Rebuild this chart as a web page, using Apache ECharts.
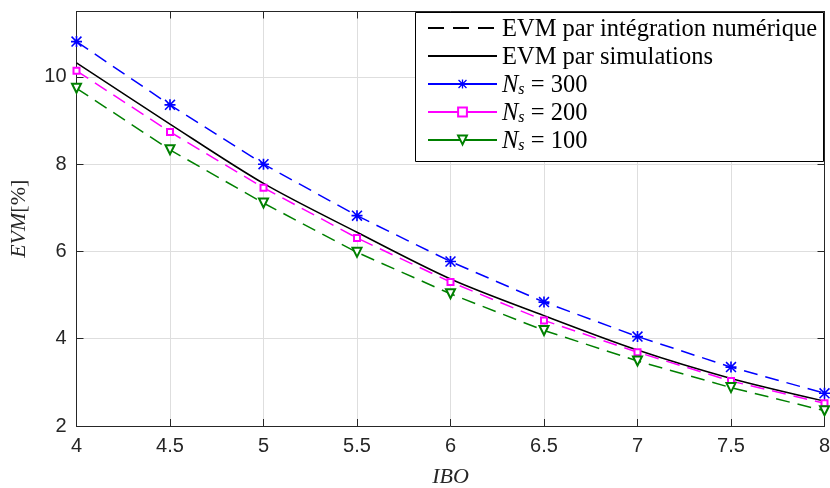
<!DOCTYPE html>
<html>
<head>
<meta charset="utf-8">
<script src="https://cdn.jsdelivr.net/npm/echarts@6/dist/echarts.min.js"></script>
<style>html,body{margin:0;padding:0;background:#fff}#c{width:830px;height:488px}</style>
</head>
<body>
<div id="c"></div>
<script>
const ibo = [4, 4.5, 5, 5.5, 6, 6.5, 7, 7.5, 8];
const evmSimulations = [10.32, 8.92, 7.56, 6.44, 5.37, 4.53, 3.74, 3.09, 2.57];
const evmNs300 = [10.81, 9.36, 8.00, 6.82, 5.77, 4.84, 4.05, 3.35, 2.75];
const evmNs200 = [10.14, 8.74, 7.46, 6.31, 5.30, 4.42, 3.69, 3.03, 2.52];
const evmNs100 = [9.74, 8.33, 7.11, 5.98, 5.03, 4.19, 3.49, 2.88, 2.35];
const xTicks = [4, 4.5, 5, 5.5, 6, 6.5, 7, 7.5, 8];
const yTicks = [2, 4, 6, 8, 10];
const legendNames = ['EVM par intégration numérique', 'EVM par simulations', 'N_s = 300', 'N_s = 200', 'N_s = 100'];

const pairs = arr => ibo.map((x, i) => [x, arr[i]]);
const star = 'path://M8.5 0H11.5V20H8.5Z M0 8.5H20V11.5H0Z M2 0 L20 18 L18 20 L0 2Z M18 0 L20 2 L2 20 L0 18Z';
const axisColor = '#262626';
const serif = 'Liberation Serif';
const hidden = {opacity: 0};

const chart = echarts.init(document.getElementById('c'), null, {renderer: 'canvas'});
chart.setOption({
  animation: false,
  backgroundColor: '#fff',
  grid: {left: 76.5, right: 5.5, top: 11.5, bottom: 62, outerBoundsMode: 'none', containLabel: false},
  xAxis: [{
    type: 'value', min: xTicks[0], max: xTicks[xTicks.length - 1], interval: 0.5,
    name: '{i|IBO}', nameLocation: 'middle', nameGap: 40,
    nameTextStyle: {rich: {i: {fontFamily: serif, fontStyle: 'italic', fontSize: 22, color: axisColor}}},
    axisLine: {lineStyle: {color: axisColor, width: 1}},
    axisTick: {inside: true, length: 7, lineStyle: {color: axisColor}},
    axisLabel: {color: axisColor, fontFamily: 'Liberation Sans', fontSize: 20, margin: 10},
    splitLine: {show: true, lineStyle: {color: '#dedede', width: 1}}
  }, {
    type: 'value', position: 'top', min: 4, max: 8, interval: 0.5,
    axisLine: {show: true, lineStyle: {color: axisColor, width: 1}},
    axisTick: {show: true, inside: true, length: 7, lineStyle: {color: axisColor}},
    axisLabel: {show: false}, splitLine: {show: false}
  }],
  yAxis: [{
    type: 'value', min: yTicks[0], max: 11.5, interval: 2,
    name: '{i|EVM}{t|[%]}', nameLocation: 'middle', nameGap: 46,
    nameTextStyle: {rich: {
      i: {fontFamily: serif, fontStyle: 'italic', fontSize: 22, color: axisColor},
      t: {fontFamily: serif, fontSize: 22, color: axisColor}
    }},
    axisLine: {show: true, lineStyle: {color: axisColor, width: 1}},
    axisTick: {show: true, inside: true, length: 7, lineStyle: {color: axisColor}},
    axisLabel: {color: axisColor, fontFamily: 'Liberation Sans', fontSize: 20, margin: 10, showMaxLabel: false},
    splitLine: {show: true, lineStyle: {color: '#dedede', width: 1}}
  }, {
    type: 'value', position: 'right', min: 2, max: 11.5, interval: 2,
    axisLine: {show: true, lineStyle: {color: axisColor, width: 1}},
    axisTick: {show: true, inside: true, length: 7, lineStyle: {color: axisColor}},
    axisLabel: {show: false}, splitLine: {show: false}
  }],
  graphic: [{
    type: 'rect', left: 415, top: 12, z: 50,
    shape: {width: 408, height: 149},
    style: {fill: '#fff', stroke: '#000', lineWidth: 1}
  }],
  legend: {
    z: 60, orient: 'vertical', left: 415, top: 12, padding: [2, 4, 6, 12],
    itemWidth: 69, itemHeight: 11, itemGap: 0,
    data: [
      {name: legendNames[0], itemStyle: hidden},
      {name: legendNames[1], itemStyle: hidden},
      {name: legendNames[2], lineStyle: {type: 'solid'}},
      {name: legendNames[3], lineStyle: {type: 'solid'}},
      {name: legendNames[4], lineStyle: {type: 'solid'}}
    ],
    formatter: function (name) {
      if (name.indexOf('N_s') === 0) {
        return '{n|N}{s|s}{t|' + name.slice(3) + '}';
      }
      return '{t|' + name + '}';
    },
    textStyle: {
      height: 28, lineHeight: 28,
      rich: {
        t: {fontFamily: serif, fontSize: 24.5, color: '#000', lineHeight: 28, verticalAlign: 'bottom'},
        n: {fontFamily: serif, fontStyle: 'italic', fontSize: 24.5, color: '#000', lineHeight: 28, verticalAlign: 'bottom'},
        s: {fontFamily: serif, fontStyle: 'italic', fontSize: 16, color: '#000', lineHeight: 16, verticalAlign: 'bottom'}
      }
    }
  },
  series: [{
    name: legendNames[0], type: 'line', data: [], symbol: 'none',
    itemStyle: {color: '#000'}, lineStyle: {color: '#000', width: 1.5, type: [16, 9]}
  }, {
    name: legendNames[1], type: 'line', data: pairs(evmSimulations), symbol: 'none', smooth: 0.3,
    itemStyle: {color: '#000'}, lineStyle: {color: '#000', width: 1.5}, z: 3
  }, {
    name: legendNames[2], type: 'line', data: pairs(evmNs300), symbol: star, symbolSize: 11,
    itemStyle: {color: '#0000ff'}, lineStyle: {color: '#0000ff', width: 1.5, type: [14, 8]}
  }, {
    name: legendNames[3], type: 'line', data: pairs(evmNs200), symbol: 'emptyRect', symbolSize: 6,
    itemStyle: {color: '#ff00ff', borderWidth: 1.3}, lineStyle: {color: '#ff00ff', width: 1.5, type: [14, 8]}
  }, {
    name: legendNames[4], type: 'line', data: pairs(evmNs100), symbol: 'emptyTriangle', symbolRotate: 180, symbolSize: 9,
    itemStyle: {color: '#008000', borderWidth: 1.3}, lineStyle: {color: '#008000', width: 1.5, type: [14, 8]}
  }]
});
</script>
</body>
</html>
